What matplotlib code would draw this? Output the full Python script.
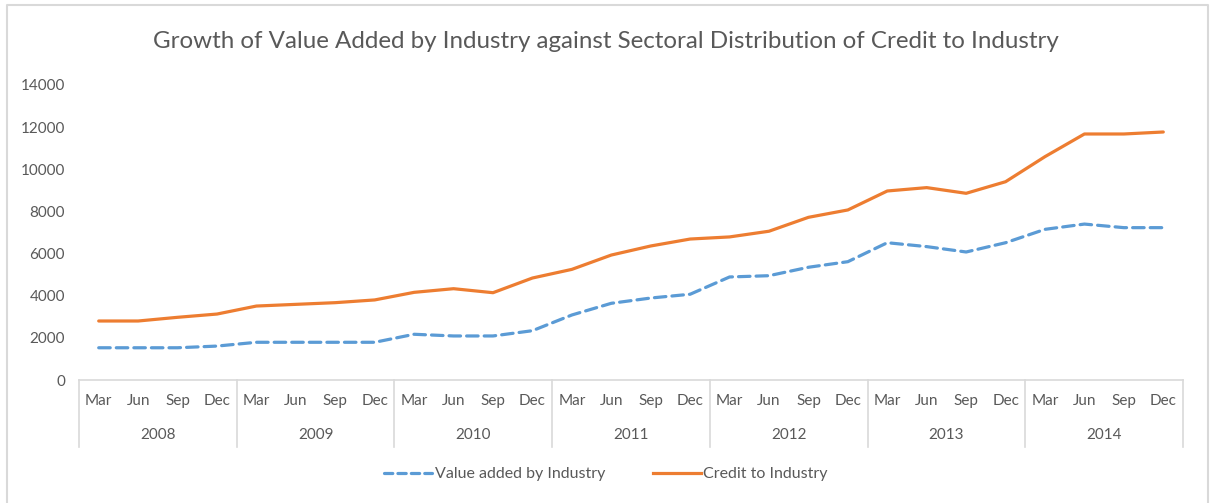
import matplotlib.pyplot as plt
from matplotlib.lines import Line2D
import matplotlib.transforms as mtransforms

plt.rcParams['font.family'] = ['Lato', 'DejaVu Sans']

years = ['2008', '2009', '2010', '2011', '2012', '2013', '2014']
months = ['Mar', 'Jun', 'Sep', 'Dec']

value_added = [1530, 1530, 1530, 1610, 1790, 1790, 1790, 1790,
               2170, 2090, 2090, 2340, 3085, 3640, 3890, 4070,
               4890, 4950, 5350, 5615, 6515, 6330, 6075, 6515,
               7150, 7400, 7230, 7230]
credit = [2800, 2800, 2975, 3130, 3510, 3590, 3670, 3800,
          4160, 4333, 4143, 4840, 5250, 5930, 6360, 6690,
          6790, 7060, 7720, 8070, 8970, 9130, 8860, 9410,
          10600, 11675, 11675, 11770]

W, H = 1214, 503
fig = plt.figure(figsize=(W / 100, H / 100), dpi=100)
ax = fig.add_axes([79 / W, 1 - 380 / H, (1183 - 79) / W, (380 - 85) / H])

x = list(range(len(credit)))
blue = '#5B9BD5'
orange = '#ED7D31'
grey = '#595959'
lgrey = '#D9D9D9'

ax.plot(x, value_added, color=blue, lw=2.3, ls=(0, (3.6, 1.9)),
        dash_capstyle='round', solid_joinstyle='round')
ax.plot(x, credit, color=orange, lw=2.3, solid_capstyle='round',
        solid_joinstyle='round')

ax.set_xlim(-0.5, len(credit) - 0.5)
ax.set_ylim(0, 14000)
ax.set_yticks(range(0, 14001, 2000))
ax.tick_params(axis='y', length=0, labelsize=11, labelcolor=grey, pad=10)
ax.set_xticks([])
for s in ['top', 'right', 'left']:
    ax.spines[s].set_visible(False)
ax.spines['bottom'].set_color(lgrey)
ax.spines['bottom'].set_linewidth(1.2)

# two-level category axis
trans = mtransforms.blended_transform_factory(ax.transData, ax.transAxes)
for i in range(len(x)):
    ax.text(i, -0.071, months[i % 4], transform=trans, ha='center',
            va='center', fontsize=11, color=grey)
for j, yr in enumerate(years):
    ax.text(j * 4 + 1.5, -0.186, yr, transform=trans, ha='center',
            va='center', fontsize=11, color=grey)
for b in range(len(years) + 1):
    ax.add_line(Line2D([b * 4 - 0.5, b * 4 - 0.5], [0, -0.227],
                       transform=trans, color=lgrey, lw=1.2, clip_on=False))

fig.text(606 / W, 1 - 41 / H,
         'Growth of Value Added by Industry against Sectoral Distribution of Credit to Industry',
         ha='center', va='center', fontsize=17.4, color=grey)

handles = [Line2D([], [], color=blue, lw=2.3, ls=(0, (2.6, 1.6)), dash_capstyle='round'),
           Line2D([], [], color=orange, lw=2.3)]
fig.legend(handles, ['Value added by Industry', 'Credit to Industry'],
           loc='center', bbox_to_anchor=(606 / W, 1 - 474 / H), ncol=2,
           frameon=False, fontsize=11.5, labelcolor=grey, handlelength=3.0,
           handletextpad=0.15, columnspacing=3.0)

# chart border
fig.add_artist(Line2D([6.5 / W, 6.5 / W, 1208 / W, 1208 / W],
                      [0, 1 - 5 / H, 1 - 5 / H, 0], transform=fig.transFigure,
                      color=lgrey, lw=1.5))

fig.savefig('out.png', dpi=100)
